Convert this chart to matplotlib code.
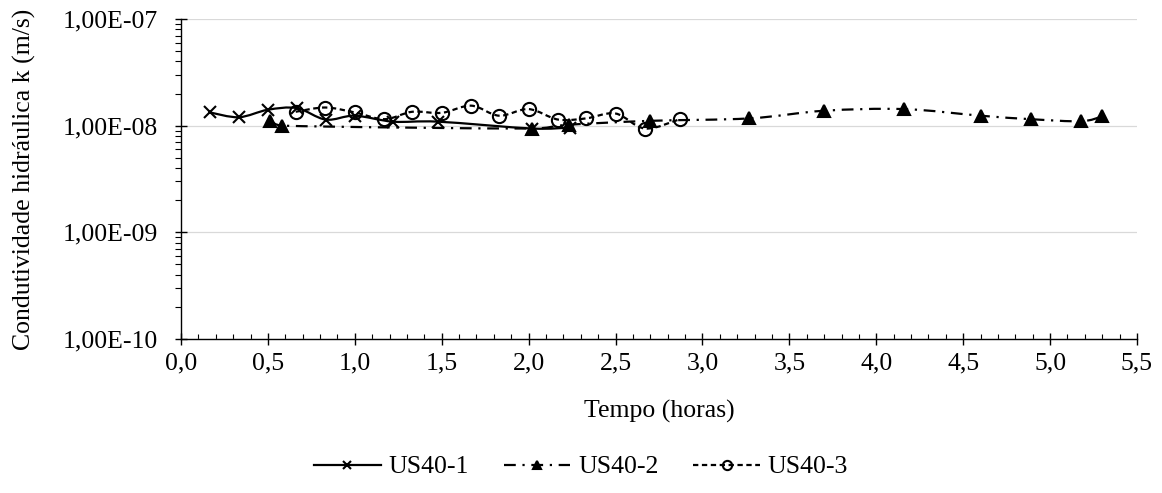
import numpy as np
import matplotlib
matplotlib.use("Agg")
import matplotlib.pyplot as plt
from matplotlib.path import Path
from matplotlib.patches import PathPatch
from matplotlib.lines import Line2D
from matplotlib.ticker import MultipleLocator, LogLocator, FuncFormatter, NullFormatter

plt.rcParams['font.family'] = ['Liberation Serif', 'DejaVu Serif']

# dados
t1 = [0.167, 0.333, 0.5, 0.667, 0.833, 1.0, 1.22, 1.48, 2.02, 2.24]
k1 = [1.33e-8, 1.20e-8, 1.41e-8, 1.46e-8, 1.14e-8, 1.24e-8, 1.09e-8, 1.09e-8, 0.94e-8, 0.96e-8]

t2 = [0.51, 0.58, 2.02, 2.23, 2.70, 3.27, 3.70, 4.16, 4.60, 4.89, 5.18, 5.30]
k2 = [1.11e-8, 1.00e-8, 0.94e-8, 1.02e-8, 1.11e-8, 1.17e-8, 1.38e-8, 1.43e-8, 1.24e-8, 1.15e-8, 1.10e-8, 1.22e-8]

t3 = [0.66, 0.83, 1.0, 1.17, 1.33, 1.5, 1.67, 1.83, 2.0, 2.17, 2.33, 2.5, 2.67, 2.87]
k3 = [1.35e-8, 1.48e-8, 1.33e-8, 1.15e-8, 1.35e-8, 1.32e-8, 1.54e-8, 1.24e-8, 1.43e-8, 1.14e-8, 1.17e-8, 1.30e-8, 0.94e-8, 1.15e-8]

labels = ['US40-1', 'US40-2', 'US40-3']


def smooth_path(xs, ys):
    # curva suavizada (bezier) em espaco x / log10(y)
    p = np.column_stack([np.asarray(xs, float), np.log10(ys)])
    n = len(p)
    verts = [p[0]]
    codes = [Path.MOVETO]
    for i in range(n - 1):
        p0 = p[i - 1] if i > 0 else p[i]
        p1 = p[i]
        p2 = p[i + 1]
        p3 = p[i + 2] if i + 2 < n else p[i + 1]
        dx = p2[0] - p1[0]
        d1 = (p2 - p0) / 6
        d2 = (p3 - p1) / 6
        if d1[0] > dx / 2:
            d1 = d1 * (dx / 2) / d1[0]
        if d2[0] > dx / 2:
            d2 = d2 * (dx / 2) / d2[0]
        verts += [p1 + d1, p2 - d2, p2]
        codes += [Path.CURVE4] * 3
    verts = np.array(verts)
    verts[:, 1] = 10 ** verts[:, 1]
    return Path(verts, codes)


fig = plt.figure(figsize=(11.62, 4.93), dpi=100)
ax = fig.add_axes([181 / 1162, 1 - 339 / 493, 956 / 1162, 320 / 493])
ax.set_yscale('log')

lw = 1.6
styles = [
    dict(ls='-', marker='x', ms=8.5, mfc='black'),
    dict(ls=(0, (5.3, 3, 1, 3)), marker='^', ms=9, mfc='black'),
    dict(ls=(0, (2.4, 1.6)), marker='o', ms=9.5, mfc='none'),
]
series = [(t1, k1), (t2, k2), (t3, k3)]

for (t, k), st in zip(series, styles):
    patch = PathPatch(smooth_path(t, k), fill=False, edgecolor='black', lw=lw,
                      linestyle=st['ls'], zorder=3)
    ax.add_patch(patch)
    ax.plot(t, k, linestyle='none', marker=st['marker'], ms=st['ms'],
            mfc=st['mfc'], mec='black', mew=1.5, zorder=4)

ax.set_xlim(0, 5.5)
ax.set_ylim(1e-10, 1e-7)

ax.xaxis.set_major_locator(MultipleLocator(0.5))
ax.xaxis.set_minor_locator(MultipleLocator(0.1))
ax.xaxis.set_major_formatter(FuncFormatter(lambda v, p: f"{v:.1f}".replace('.', ',')))
ax.yaxis.set_major_locator(LogLocator(base=10, numticks=10))
ax.yaxis.set_minor_locator(LogLocator(base=10, subs=np.arange(2, 10), numticks=20))
ax.yaxis.set_major_formatter(FuncFormatter(lambda v, p: f"{v:.2E}".replace('.', ',')))
ax.yaxis.set_minor_formatter(NullFormatter())

ax.tick_params(axis='both', which='major', direction='inout', length=9, width=1,
               labelsize=18.5, color='black')
ax.tick_params(axis='x', which='major', pad=5)
ax.tick_params(axis='y', which='major', pad=12)
ax.tick_params(axis='x', which='minor', direction='in', length=3.5, width=0.8)
ax.tick_params(axis='y', which='minor', direction='out', length=4.5, width=0.8)

ax.spines['top'].set_visible(False)
ax.spines['right'].set_visible(False)
ax.spines['left'].set_linewidth(1)
ax.spines['bottom'].set_linewidth(1)

ax.grid(axis='y', which='major', color='#d9d9d9', lw=0.9)
ax.set_axisbelow(True)

ax.set_xlabel('Tempo (horas)', fontsize=18.5)
ax.set_ylabel('Condutividade hidráulica k (m/s)', fontsize=18.5)
ax.xaxis.set_label_coords(0.5, -0.19)
ax.yaxis.set_label_coords(-0.152, 0.5)

handles = []
for st in styles:
    handles.append(Line2D([], [], color='black', lw=lw, linestyle=st['ls'],
                          marker=st['marker'], ms=st['ms'] * 0.7, mfc=st['mfc'],
                          mec='black', mew=1.5))
fig.legend(handles, labels, loc='center', bbox_to_anchor=(0.5, 26 / 493), ncol=3,
           frameon=False, fontsize=18.5, handlelength=2.6, handletextpad=0.3,
           columnspacing=1.35)

fig.savefig('out.png', dpi=100)
